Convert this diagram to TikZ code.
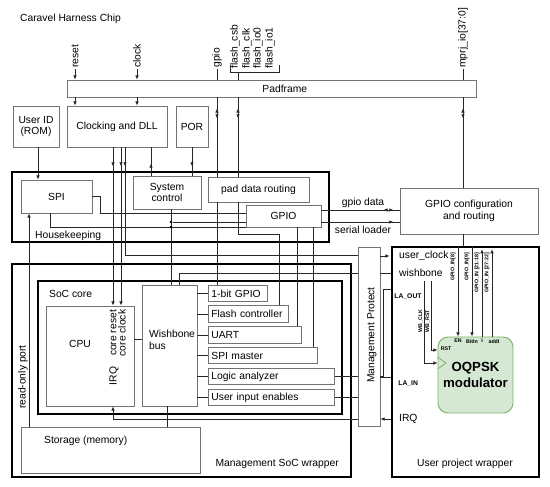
\documentclass[tikz,border=0pt]{standalone}
\usepackage{fontspec}
\setmainfont{Liberation Sans}
\usetikzlibrary{positioning, arrows.meta, decorations.markings}

\definecolor{boxgray}{gray}{0.45}
\definecolor{modfill}{HTML}{D5E8D4}
\definecolor{modline}{HTML}{82B366}

\begin{document}
\begin{tikzpicture}[
    x=0.03cm, y=-0.03cm,
    every node/.style={font=\fontsize{8.8}{10}\selectfont},
    box/.style={draw=boxgray, line width=0.7pt},
    wh/.style 2 args={minimum width=#1*0.03cm, minimum height=#2*0.03cm},
    frame/.style={draw=black, line width=1.3pt},
    wrap/.style={draw=black, line width=2.2pt},
    per/.style={box, anchor=west, align=left, inner xsep=0.09cm,
        inner ysep=0pt, minimum height=0.5cm, text width=#1},
    vlbl/.style={rotate=90, inner sep=1pt},
    pinlbl/.style={font=\fontsize{4.5}{5}\selectfont\bfseries, inner sep=0.5pt},
    siglbl/.style={font=\fontsize{5.8}{6.5}\selectfont\bfseries, inner sep=1pt},
    line/.style={draw=black!85, line width=0.6pt},
    arr/.style={line, -{Latex[length=3.5pt,width=3pt]}},
    arrat/.style={line, postaction={decorate},
        decoration={markings, mark=at position #1 with
            {\arrow{Latex[length=3.5pt,width=3pt]}}}},
    both/.style 2 args={line, postaction={decorate},
        decoration={markings,
            mark=at position #1 with {\arrowreversed{Latex[length=3.5pt,width=3pt]}},
            mark=at position #2 with {\arrow{Latex[length=3.5pt,width=3pt]}}}},
    dot/.style={circle, fill=black, inner sep=0pt, minimum size=2.5pt}
]
\useasboundingbox (0,0) rectangle (550,487);

\node[anchor=west] (title) at (16,19) {Caravel Harness Chip};

% pins at the top
\node[vlbl, anchor=west] (rst) at (75,69) {reset};
\node[vlbl, anchor=west] (clkin) at (137,69) {clock};
\node[vlbl, anchor=west] (gpin) at (217,69) {gpio};
\node[vlbl, anchor=west] (fcsb) at (235,70) {flash\_csb};
\node[vlbl, anchor=west] (fclk) at (247,70) {flash\_clk};
\node[vlbl, anchor=west] (fio0) at (258,70) {flash\_io0};
\node[vlbl, anchor=west] (fio1) at (270,70) {flash\_io1};
\node[vlbl, anchor=west] (mprj) at (463,69) {mprj\_io[37:0]};
\coordinate (fbus) at (238,72);

\node[box, wh={409}{17}, label={[xshift=0.4cm]center:Padframe}] (pad) at (271.5,88.5) {};

% clocking row
\node[box, wh={46}{41}, align=center] (uid) at (36,126.5) {User ID\\(ROM)};
\node[box, wh={100}{41}] (clk) at (117,126.5) {Clocking and DLL};
\node[box, wh={32}{41}] (por) at (192,126.5) {POR};

% housekeeping
\node[frame, wh={317}{70}] (hk) at (170.5,207) {};
\node[anchor=west] (hklbl) at (31,236) {Housekeeping};
\node[box, wh={71}{33}] (spi) at (56.5,196.5) {SPI};
\node[box, wh={68}{33}, align=center] (sys) at (167,192.5) {System\\control};
\node[box, wh={101}{25}] (pdr) at (258.5,189.5) {pad data routing};
\node[box, wh={75}{22}] (hgpio) at (283.5,216) {GPIO};
\node[box, wh={138}{46}, align=center] (gcfg) at (469,211) {GPIO configuration\\and routing};

% management SoC
\node[wrap, wh={339}{213}] (mgmt) at (181.5,370.5) {};
\node[anchor=east] (mgmtlbl) at (343,464) {Management SoC wrapper};
\node[frame, wh={304}{133}] (soc) at (190,347.5) {};
\node[anchor=west] (soclbl) at (45,294) {SoC core};
\node[box, wh={88}{100}] (cpu) at (90,356) {};
\node (cpulbl) at (80,344) {CPU};
\node[vlbl] (crst) at (113,333) {core reset};
\node[vlbl] (cclk) at (122,333) {core clock};
\node[vlbl] (cirq) at (114,376) {IRQ};
\node[box, wh={55}{121}] (wb) at (169.5,345.5) {};
\node[anchor=west, align=left] (wblbl) at (145,340) {Wishbone\\bus};
\node[per=1.59cm] (gpio1) at (208,293.5) {1-bit GPIO};
\node[per=2.22cm] (flash) at (208,314) {Flash controller};
\node[per=2.61cm] (uart) at (208,335) {UART};
\node[per=3.09cm] (spim) at (208,355.5) {SPI master};
\node[per=3.6cm] (la) at (208,376.5) {Logic analyzer};
\node[per=3.6cm] (uie) at (208,397.5) {User input enables};
\node[box, wh={179}{46}] (mem) at (110.5,450) {};
\node[anchor=west] (memlbl) at (40,441) {Storage (memory)};
\node[vlbl] (rop) at (23,377) {read-only port};

% management protect
\node[box, wh={22}{179}] (mp) at (369,336.5) {};
\node[vlbl] (mplbl) at (372,335) {Management Protect};

% user project
\node[wrap, wh={147}{230}] (upw) at (465.5,362) {};
\node (upwlbl) at (465,464) {User project wrapper};
\node[anchor=west] (uclk) at (395,256) {user\_clock};
\node[anchor=west] (wbl) at (395,273) {wishbone};
\node[anchor=west] (irq) at (395,419) {IRQ};
\node[siglbl, anchor=west] (laout) at (393,297) {LA\_OUT};
\node[siglbl, anchor=west] (lain) at (397,384) {LA\_IN};
\node[draw=modline, fill=modfill, line width=0.8pt, rounded corners=0.3cm,
    wh={75}{76}, align=center, font=\fontsize{11.3}{13.6}\selectfont\bfseries]
    (mod) at (475.5,375) {OQPSK\\modulator};
\draw[modline, line width=0.7pt] (mod.west |- 0,357) -- (446,363) -- (mod.west |- 0,369);
\node[pinlbl, anchor=north] (pen) at (458,338.5) {EN};
\node[pinlbl, anchor=north] (pbit) at (472,338.5) {BitIn};
\node[pinlbl, anchor=north] (pi) at (482,338.5) {I};
\node[pinlbl, anchor=north] (paddi) at (494,338.5) {addI};
\node[pinlbl, anchor=west] (prst) at (440,349) {RST};
\node[vlbl, pinlbl, anchor=east] (g8) at (453,252) {GPIO\_IN[8]};
\node[vlbl, pinlbl, anchor=east] (g9) at (467,252) {GPIO\_IN[9]};
\node[vlbl, pinlbl, anchor=east] (g21) at (477,252) {GPIO\_IN [21:18]};
\node[vlbl, pinlbl, anchor=east] (g27) at (487,252) {GPIO\_IN [27:22]};
\node[vlbl, pinlbl] (wbclk) at (420.5,321) {WB\_CLK};
\node[vlbl, pinlbl] (wbrst) at (427.5,321) {WB\_RST};

% pins to padframe
\draw[arr] (rst.west) -- (rst.west |- pad.north);
\draw[arr] (pad.south -| rst.west) -- (clk.north -| rst.west);
\draw[arr] (clkin.west) -- (clkin.west |- pad.north);
\draw[arr] (pad.south -| clkin.west) -- (clk.north -| clkin.west);
\draw[line] (gpin.west) -- (gpin.west |- pad.north);
\draw[both={0.33cm}{0.63cm}] (pad.south -| gpin.west) -- (pdr.north -| gpin.west);
\draw[line] (pdr.south -| gpin.west) -- (gpio1.north -| gpin.west);
\draw[line] (230,65) |- (279,72) -- (279,65);
\draw[line] (fbus) -- (pad.north -| fbus);
\draw[both={0.33cm}{0.63cm}] (pad.south -| fbus) -- (pdr.north -| fbus);
\draw[line] (pdr.south -| fbus) |- (279,234) -- (flash.north -| 279,0);
\draw[line] (mprj.west) -- (mprj.west |- pad.north);
\draw[both={0.33cm}{0.63cm}] (pad.south -| mprj.west) -- (gcfg.north -| mprj.west);
\draw[line] (gcfg.south -| mprj.west) -- (upw.north -| mprj.west);

% clocking and reset
\draw[arr] (uid.south -| 38,0) -- (spi.north -| 38,0);
\draw[arr, arrat=0.57cm] (clk.south -| 113,0) -- (cpu.north -| 113,0);
\draw[arr, arrat=0.57cm] (clk.south -| 121,0) -- (cpu.north -| 121,0);
\draw[arrat=0.57cm] (clk.south -| 125,0) |- (mp.west |- 0,255);
\draw[arrat=0.36cm] (sys.north -| 151,0) -- (clk.south -| 151,0);
\draw[arrat=0.57cm] (por.south) -- (sys.north -| por.south);

% housekeeping wiring
\draw[line] (spi.east) -| (100,213) -- (hgpio.west |- 0,213);
\draw[line] (spi.south -| 50,0) |- (hgpio.south west);
\draw[line] (sys.south -| 171,0) -- (wb.north -| 171,0);
\node[dot] (d1) at (171,222) {};
\node[dot] (d2) at (171,227) {};
\draw[line] (d1) -- (hgpio.west |- d1);
\draw[both={1.86cm}{2.16cm}] (hgpio.east |- 0,210) -- (gcfg.west |- 0,210);
\draw[arrat=2.16cm] (hgpio.east |- 0,222) -- (gcfg.west |- 0,222);
\node (gdata) at (363,203) {gpio data};
\node (sload) at (363,230) {serial loader};
\draw[line] (hgpio.south -| 297,0) -- (uart.north -| 297,0);
\draw[line] (hgpio.south -| 313,0) -- (spim.north -| 313,0);

% SoC core wiring
\foreach \p in {gpio1, flash, uart, spim, la, uie}
    \draw[line] (wb.east |- \p.west) -- (\p.west);
\draw[line] (cpu.east |- 0,339) -- (wb.west |- 0,339);
\draw[line] (wb.south -| 167,0) -- (mem.north -| 167,0);
\draw[arr] (mem.north -| 29,0) -- (spi.south -| 29,0);
\draw[line] (wb.north -| 179,0) |- (mp.west |- 0,273);
\draw[line] (la.east) -- (mp.west |- la.east);
\draw[line] (uie.east) -- (mp.west |- uie.east);
\draw[arr] (mp.west |- 0,419) -| (cpu.south -| 113,0);

% management protect to user project
\draw[arr, shorten >=1pt] (mp.east |- 0,256) -- (upw.west |- 0,256);
\draw[line] (mp.east |- 0,273) -- (upw.west |- 0,273);
\draw[arr] (upw.west |- 0,419) -- (mp.east |- 0,419);
\draw[line] (upw.west |- 0,289) -| (383,376) -- (mp.east |- 0,376);
\draw[line] (mp.east |- 0,377.5) -- (upw.west |- 0,377.5);

% modulator ports
\draw[arr] (upw.north -| 458,0) -- (mod.north -| 458,0);
\draw[arr] (upw.north -| 472,0) -- (mod.north -| 472,0);
\draw[arr, shorten >=3pt] (mod.north -| 482,0) -- (upw.north -| 482,0);
\draw[arr, shorten >=3pt] (mod.north -| 492,0) -- (upw.north -| 492,0);
\draw[arr] (wbl.south -| 424,0) |- (mod.west |- 0,363);
\draw[arr] (wbl.south -| 431,0) |- (mod.west |- 0,350);

\end{tikzpicture}
\end{document}
